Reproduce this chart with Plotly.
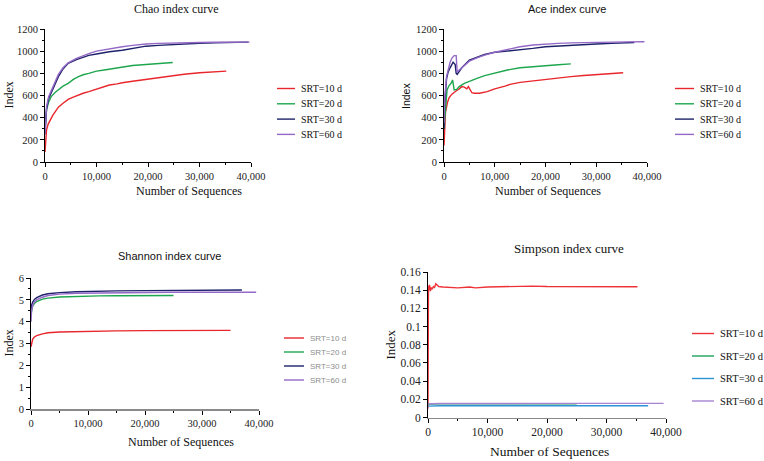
import plotly.graph_objects as go

W, H = 764, 461
SERIF = "Liberation Serif, Times New Roman, serif"
SANS = "Liberation Sans, Arial, sans-serif"

names = ["SRT=10 d", "SRT=20 d", "SRT=30 d", "SRT=60 d"]

# ---------------- Chao ----------------
chao10_x = [0, 100, 300, 600, 1000, 1500, 2000, 2600, 3500, 4500, 5500, 6500, 7400, 8500, 10000, 11500, 12500, 14000, 15000, 17000, 19600, 21000, 23000, 24800, 27000, 30000, 32500, 35200]
chao10_y = [90, 200, 290, 340, 380, 420, 455, 495, 530, 565, 585, 605, 620, 635, 660, 680, 695, 705, 715, 728, 745, 752, 765, 778, 792, 805, 812, 820]
chao20_x = [0, 100, 300, 700, 1200, 2000, 2600, 3500, 4500, 5500, 6500, 7400, 8500, 10000, 11500, 12500, 14000, 15000, 17000, 19600, 22000, 24800]
chao20_y = [300, 380, 470, 540, 590, 630, 655, 685, 710, 745, 770, 787, 800, 820, 830, 838, 850, 860, 870, 880, 890, 898]
chao30_x = [0, 100, 300, 700, 1600, 2600, 3500, 4500, 6100, 7400, 8500, 10000, 12500, 15000, 17000, 19600, 22000, 24800, 27000, 30000, 33000, 36000, 39500]
chao30_y = [250, 380, 480, 570, 665, 770, 840, 890, 924, 948, 962, 975, 995, 1008, 1025, 1045, 1052, 1060, 1066, 1072, 1076, 1080, 1082]
chao60_x = [0, 100, 300, 700, 1600, 2600, 3500, 4500, 6100, 7400, 8500, 10000, 12500, 15000, 17000, 19600, 22000, 24800, 27000, 30000, 33000, 36000, 39700]
chao60_y = [250, 400, 500, 590, 690, 790, 850, 895, 935, 960, 978, 1000, 1022, 1040, 1052, 1065, 1070, 1075, 1077, 1078, 1080, 1081, 1082]

# ---------------- Ace ----------------
ace10_x = [0, 100, 300, 700, 1000, 1500, 2000, 2500, 3000, 3500, 4000, 4500, 4800, 5000, 5500, 6000, 7000, 8500, 10000, 12000, 13000, 15000, 17500, 20000, 22500, 25000, 27500, 30000, 32500, 35300]
ace10_y = [150, 330, 450, 540, 580, 610, 630, 645, 660, 680, 675, 660, 680, 665, 625, 620, 620, 635, 660, 685, 700, 718, 732, 745, 758, 770, 780, 790, 797, 805]
ace20_x = [0, 200, 600, 1000, 1400, 1700, 2000, 2500, 3000, 4000, 5000, 6500, 8000, 10000, 12500, 15000, 17500, 20000, 22500, 25000]
ace20_y = [300, 450, 650, 690, 710, 740, 650, 655, 680, 710, 730, 755, 780, 805, 830, 850, 862, 868, 878, 885]
ace30_x = [0, 100, 500, 800, 1200, 1800, 2200, 2400, 2600, 3500, 5000, 6500, 8000, 10000, 12500, 15000, 17500, 20000, 22500, 25000, 27500, 30000, 33000, 36000, 37500]
ace30_y = [300, 500, 750, 810, 850, 900, 880, 800, 790, 850, 920, 945, 970, 990, 1000, 1010, 1025, 1040, 1048, 1055, 1060, 1065, 1070, 1075, 1078]
ace60_x = [0, 100, 500, 800, 1200, 1600, 2000, 2400, 2600, 3000, 4000, 5000, 6500, 8000, 10000, 12500, 15000, 17500, 20000, 22500, 25000, 27500, 30000, 33000, 36000, 39500]
ace60_y = [350, 550, 770, 840, 900, 940, 960, 960, 810, 830, 870, 910, 940, 965, 990, 1015, 1040, 1055, 1065, 1070, 1075, 1078, 1080, 1082, 1084, 1085]

# ---------------- Shannon ----------------
sh10_x = [0, 100, 300, 600, 1000, 2000, 3000, 5000, 8000, 12000, 15000, 20000, 25000, 30000, 35000]
sh10_y = [2.85, 3.05, 3.2, 3.3, 3.36, 3.44, 3.49, 3.53, 3.55, 3.57, 3.58, 3.59, 3.59, 3.6, 3.6]
sh20_x = [0, 100, 300, 600, 1000, 2000, 3000, 5000, 8000, 12000, 15000, 20000, 25000]
sh20_y = [4.35, 4.55, 4.72, 4.83, 4.92, 5.03, 5.08, 5.13, 5.16, 5.18, 5.19, 5.2, 5.2]
sh30_x = [0, 100, 300, 600, 1000, 2000, 3000, 5000, 8000, 12000, 15000, 20000, 25000, 30000, 37000]
sh30_y = [4.5, 4.75, 4.9, 5.02, 5.1, 5.22, 5.28, 5.33, 5.37, 5.4, 5.41, 5.42, 5.43, 5.44, 5.45]
sh60_x = [0, 100, 300, 600, 1000, 2000, 3000, 5000, 8000, 12000, 15000, 20000, 25000, 30000, 35000, 39500]
sh60_y = [4.0, 4.5, 4.75, 4.9, 5.0, 5.12, 5.2, 5.26, 5.3, 5.32, 5.33, 5.34, 5.35, 5.35, 5.35, 5.35]

# ---------------- Simpson ----------------
si10_x = [0, 30, 80, 150, 250, 400, 550, 700, 900, 1100, 1300, 1500, 1800, 2500, 3500, 5000, 7000, 8000, 10000, 12500, 15000, 17500, 20000, 25000, 30000, 35200]
si10_y = [0.01, 0.12, 0.145, 0.14, 0.146, 0.139, 0.143, 0.141, 0.144, 0.143, 0.147, 0.146, 0.144, 0.1435, 0.143, 0.1425, 0.1435, 0.1425, 0.1435, 0.1438, 0.1445, 0.1445, 0.144, 0.1438, 0.1438, 0.1438]
si20_x = [0, 500, 2000, 5000, 10000, 15000, 20000, 25000]
si20_y = [0.0148, 0.0150, 0.0151, 0.0151, 0.0151, 0.0151, 0.0151, 0.0151]
si30_x = [0, 500, 2000, 5000, 10000, 15000, 20000, 25000, 30000, 37000]
si30_y = [0.0125, 0.0128, 0.0129, 0.0129, 0.0129, 0.0129, 0.0129, 0.0129, 0.0129, 0.0129]
si60_x = [0, 500, 2000, 5000, 10000, 15000, 20000, 25000, 30000, 35000, 39600]
si60_y = [0.0148, 0.0152, 0.0154, 0.0155, 0.0155, 0.0155, 0.0155, 0.0155, 0.0155, 0.0155, 0.0155]

colors_a = ["#e8262c", "#1ea64e", "#1e226a", "#9468c6"]
colors_b = ["#ee3338", "#1aa35a", "#2e94d4", "#a783d2"]


def px(x):
    return x / W


def py(y):
    return 1 - y / H


fig = go.Figure()

panels = [
    dict(xa="x", ya="y", series=[(chao10_x, chao10_y), (chao20_x, chao20_y), (chao30_x, chao30_y), (chao60_x, chao60_y)], colors=colors_a),
    dict(xa="x2", ya="y2", series=[(ace10_x, ace10_y), (ace20_x, ace20_y), (ace30_x, ace30_y), (ace60_x, ace60_y)], colors=colors_a),
    dict(xa="x3", ya="y3", series=[(sh10_x, sh10_y), (sh20_x, sh20_y), (sh30_x, sh30_y), (sh60_x, sh60_y)], colors=colors_a),
    dict(xa="x4", ya="y4", series=[(si10_x, si10_y), (si20_x, si20_y), (si30_x, si30_y), (si60_x, si60_y)], colors=colors_b),
]

for p in panels:
    for (xs, ys), nm, c in zip(p["series"], names, p["colors"]):
        fig.add_trace(go.Scatter(x=xs, y=ys, mode="lines", name=nm, xaxis=p["xa"], yaxis=p["ya"],
                                 line=dict(color=c, width=1.4), showlegend=False))


def xaxis_cfg(d0, d1, anchor, fs, lc="black", lw=1):
    return dict(domain=[px(d0), px(d1)], anchor=anchor, range=[0, 40000], tickvals=[0, 10000, 20000, 30000, 40000],
                tickformat=",d", showline=True, linecolor=lc, linewidth=lw, ticks="outside", ticklen=4,
                tickcolor="black", showgrid=False, zeroline=False,
                minor=dict(ticks="outside", ticklen=2, dtick=5000, tickcolor="black", showgrid=False),
                tickfont=dict(family=SERIF, size=fs, color="#222"))


def yaxis_cfg(bottom, top, anchor, rng, dtick, minor, fs, fmt=None):
    cfg = dict(domain=[py(bottom), py(top)], anchor=anchor, range=rng, dtick=dtick, showline=True, linecolor="black",
               linewidth=1, ticks="outside", ticklen=4, tickcolor="black", showgrid=False, zeroline=False,
               tickfont=dict(family=SERIF, size=fs, color="#222"))
    if minor:
        cfg["minor"] = dict(ticks="outside", ticklen=2, dtick=minor, tickcolor="black", showgrid=False)
    if fmt:
        cfg["tickformat"] = fmt
    return cfg


fig.update_layout(
    autosize=True, margin=dict(l=0, r=0, t=0, b=0, autoexpand=False),
    paper_bgcolor="white", plot_bgcolor="white", showlegend=False,
    xaxis=xaxis_cfg(45, 251, "y", 10.5),
    yaxis=yaxis_cfg(162, 29, "x", [0, 1200], 200, 100, 10.5, "d"),
    xaxis2=xaxis_cfg(444, 647, "y2", 10.5),
    yaxis2=yaxis_cfg(162, 29, "x2", [0, 1200], 200, 100, 10.5, "d"),
    xaxis3=xaxis_cfg(31, 259, "y3", 10.5, lc="#8a8a8a", lw=1.5),
    yaxis3=yaxis_cfg(409, 278, "x3", [0, 6], 1, 0.5, 10.5),
    xaxis4=xaxis_cfg(428, 666, "y4", 11.5, lc="#8a8a8a", lw=1.2),
    yaxis4=yaxis_cfg(417.5, 272, "x4", [0, 0.16], 0.02, None, 11.5),
)

ann = []


def text(x, y, s, fam, size, color="#111", angle=0, xanchor="center"):
    ann.append(dict(x=px(x), y=py(y), xref="paper", yref="paper", text=s, showarrow=False,
                    font=dict(family=fam, size=size, color=color), textangle=angle,
                    xanchor=xanchor, yanchor="middle"))


# titles
text(176.7, 9, "Chao index curve", SERIF, 12)
text(567, 9, "Ace index curve", SANS, 11)
text(169, 256, "Shannon index curve", SANS, 11)
text(569, 248, "Simpson index curve", SERIF, 13)
# x titles
text(189, 191, "Number of Sequences", SERIF, 12)
text(548, 191.5, "Number of Sequences", SERIF, 12)
text(180.5, 442, "Number of Sequences", SERIF, 12)
text(549, 451.5, "Number of Sequences", SERIF, 13.5)
# y titles
text(8.5, 95, "Index", SERIF, 12, angle=-90)
text(406, 96, "Index", SANS, 10.5, angle=-90)
text(8.5, 343, "Index", SERIF, 12, angle=-90)
text(389.5, 345, "Index", SERIF, 13, angle=-90)

# manual legends
shapes = []
legends = [
    dict(x0=277, x1=295, tx=299, y0=88.5, dy=15.3, fam=SERIF, size=10, tc="#111", colors=colors_a),
    dict(x0=675, x1=694, tx=698, y0=88.5, dy=15.3, fam=SERIF, size=10, tc="#111", colors=colors_a),
    dict(x0=284, x1=304, tx=308, y0=338, dy=14, fam=SANS, size=8, tc="#8c8c8c", colors=colors_a),
    dict(x0=692, x1=714, tx=718, y0=333.5, dy=22.5, fam=SERIF, size=10.5, tc="#111", colors=colors_b),
]
for lg in legends:
    for i, (nm, c) in enumerate(zip(names, lg["colors"])):
        yy = lg["y0"] + i * lg["dy"]
        shapes.append(dict(type="line", xref="paper", yref="paper", x0=px(lg["x0"]), x1=px(lg["x1"]),
                           y0=py(yy), y1=py(yy), line=dict(color=c, width=1.4)))
        text(lg["tx"], yy, nm, lg["fam"], lg["size"], color=lg["tc"], xanchor="left")

fig.update_layout(annotations=ann, shapes=shapes)

fit_page = (
    "var gd=document.getElementById('{plot_id}');"
    "document.documentElement.style.height='100%';"
    "document.documentElement.style.overflow='hidden';"
    "document.body.style.height='100%';"
    "document.body.style.margin='0';"
    "document.body.style.overflow='hidden';"
    "gd.parentElement.style.height='100%';"
    "gd.parentElement.style.width='100%';"
    "Plotly.Plots.resize(gd);"
)
fig.write_html("out.html", default_width="100%", default_height="100%",
               config={"displayModeBar": False, "responsive": True}, post_script=fit_page)
